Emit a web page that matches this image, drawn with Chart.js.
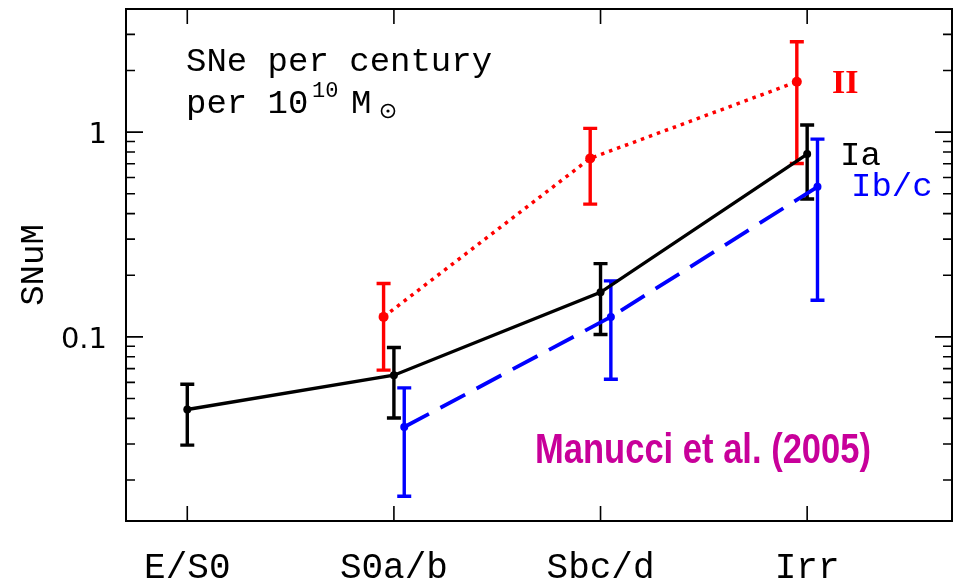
<!DOCTYPE html>
<html>
<head>
<meta charset="utf-8">
<script src="https://cdn.jsdelivr.net/npm/chart.js@4"></script>
<style>
  html, body { margin: 0; padding: 0; background: #ffffff; }
  #wrap { width: 957px; height: 583px; }
</style>
</head>
<body>
<div id="wrap"><canvas id="c" width="957" height="583"></canvas></div>
<script>
// ---- Data ----
const categories = ['E/S0', 'S0a/b', 'Sbc/d', 'Irr'];

const iaValues  = [0.0442, 0.065, 0.165, 0.781];
const iaErrHigh = [0.0587, 0.0887, 0.228, 1.082];
const iaErrLow  = [0.0296, 0.0402, 0.1027, 0.471];

const iiValues  = [null, 0.1252, 0.744, 1.761];
const iiErrHigh = [null, 0.1823, 1.042, 2.761];
const iiErrLow  = [null, 0.0688, 0.4447, 0.703];

const ibcValues  = [null, 0.0363, 0.1252, 0.5407];
const ibcErrHigh = [null, 0.0564, 0.1877, 0.924];
const ibcErrLow  = [null, 0.01666, 0.0621, 0.151];

const seriesOffsets = { Ia: 0, II: -0.05, Ibc: 0.05 };

const yMajorTicks = [0.1, 1];
const yMajorLabels = ['0.1', '1'];
const yMinorTicks = [0.02, 0.03, 0.04, 0.05, 0.06, 0.07, 0.08, 0.09,
                     0.2, 0.3, 0.4, 0.5, 0.6, 0.7, 0.8, 0.9, 2, 3];

const xMin = -0.2966, xMax = 3.701;
const yMin = 0.01262, yMax = 3.99;

// ---- build datasets ----
function pts(vals, off) {
  const out = [];
  vals.forEach((v, i) => { if (v !== null) out.push({ x: i + off, y: v }); });
  return out;
}

const series = [
  { label: 'II', values: iiValues, hi: iiErrHigh, lo: iiErrLow, off: seriesOffsets.II,
    color: '#ff0000', dash: [3.5, 5], width: 3.5, radius: 5 },
  { label: 'Ia', values: iaValues, hi: iaErrHigh, lo: iaErrLow, off: seriesOffsets.Ia,
    color: '#000000', dash: [], width: 3.4, radius: 4 },
  { label: 'Ib/c', values: ibcValues, hi: ibcErrHigh, lo: ibcErrLow, off: seriesOffsets.Ibc,
    color: '#0000ff', dash: [28, 13], width: 3.8, radius: 4 }
];

const errorBarPlugin = {
  id: 'errbars',
  beforeDatasetsDraw(chart) {
    const ctx = chart.ctx, xs = chart.scales.x, ys = chart.scales.y;
    ctx.save();
    series.forEach(s => {
      ctx.strokeStyle = s.color;
      ctx.lineWidth = 3.4;
      ctx.setLineDash([]);
      ctx.lineCap = 'butt';
      s.values.forEach((v, i) => {
        if (v === null) return;
        const px = xs.getPixelForValue(i + s.off);
        const yh = ys.getPixelForValue(s.hi[i]);
        const yl = ys.getPixelForValue(s.lo[i]);
        ctx.beginPath();
        ctx.moveTo(px, yh); ctx.lineTo(px, yl);
        ctx.moveTo(px - 7, yh); ctx.lineTo(px + 7, yh);
        ctx.moveTo(px - 7, yl); ctx.lineTo(px + 7, yl);
        ctx.stroke();
      });
    });
    ctx.restore();
  }
};

const framePlugin = {
  id: 'frame',
  afterDraw(chart) {
    const ctx = chart.ctx, xs = chart.scales.x, ys = chart.scales.y;
    const a = chart.chartArea;
    ctx.save();
    ctx.setLineDash([]);
    // frame
    ctx.strokeStyle = '#000';
    ctx.lineWidth = 2;
    ctx.strokeRect(a.left, a.top, a.right - a.left, a.bottom - a.top);
    // y ticks (left and right)
    ctx.lineWidth = 1.6;
    ctx.beginPath();
    yMajorTicks.forEach(v => {
      const py = ys.getPixelForValue(v);
      ctx.moveTo(a.left, py); ctx.lineTo(a.left + 17, py);
      ctx.moveTo(a.right, py); ctx.lineTo(a.right - 17, py);
    });
    yMinorTicks.forEach(v => {
      const py = ys.getPixelForValue(v);
      ctx.moveTo(a.left, py); ctx.lineTo(a.left + 9, py);
      ctx.moveTo(a.right, py); ctx.lineTo(a.right - 9, py);
    });
    // x ticks (bottom and top)
    categories.forEach((c, i) => {
      const px = xs.getPixelForValue(i);
      ctx.moveTo(px, a.bottom); ctx.lineTo(px, a.bottom - 15);
      ctx.moveTo(px, a.top); ctx.lineTo(px, a.top + 15);
    });
    ctx.stroke();

    // y tick labels
    ctx.fillStyle = '#000';
    ctx.font = '29px "DejaVu Sans"';
    ctx.textAlign = 'right';
    ctx.textBaseline = 'alphabetic';
    yMajorTicks.forEach((v, i) => {
      const py = ys.getPixelForValue(v);
      ctx.fillText(yMajorLabels[i], 107, py + 11);
    });

    // x category labels
    ctx.font = '36px "Liberation Mono"';
    ctx.textAlign = 'center';
    categories.forEach((c, i) => {
      const px = xs.getPixelForValue(i);
      ctx.fillText(c, px, 578);
    });

    // y axis title
    ctx.save();
    ctx.translate(43, 265);
    ctx.rotate(-Math.PI / 2);
    ctx.font = '34px "Liberation Mono"';
    ctx.textAlign = 'center';
    ctx.fillText('SNuM', 0, 0);
    ctx.restore();

    // annotation
    ctx.textAlign = 'left';
    ctx.font = '34px "Liberation Mono"';
    ctx.fillText('SNe per century', 186, 71);
    ctx.fillText('per 10', 186, 113);
    ctx.font = '22px "Liberation Mono"';
    ctx.fillText('10', 312, 97);
    ctx.font = '34px "Liberation Mono"';
    ctx.fillText('M', 351, 113);
    // sun symbol
    ctx.lineWidth = 1.6;
    ctx.beginPath();
    ctx.arc(388, 111, 6.5, 0, Math.PI * 2);
    ctx.stroke();
    ctx.beginPath();
    ctx.arc(388, 111, 1.6, 0, Math.PI * 2);
    ctx.fill();

    // series labels
    ctx.fillStyle = '#ff0000';
    ctx.font = 'bold 34px "Liberation Serif"';
    ctx.fillText('II', 832, 93);
    ctx.font = '34px "Liberation Mono"';
    ctx.fillStyle = '#000000';
    ctx.fillText('Ia', 840, 165);
    ctx.fillStyle = '#0000ff';
    ctx.fillText('Ib/c', 851, 196);

    // citation
    ctx.fillStyle = '#c8009a';
    ctx.font = 'bold 42px "Liberation Sans Narrow", "Liberation Sans"';
    const txt = 'Manucci et al. (2005)';
    const w = ctx.measureText(txt).width;
    const target = 336;
    ctx.save();
    ctx.translate(535, 463);
    ctx.scale(target / w, 1);
    ctx.fillText(txt, 0, 0);
    ctx.restore();

    ctx.restore();
  }
};

const datasets = series.map(s => ({
  label: s.label,
  data: pts(s.values, s.off),
  borderColor: s.color,
  backgroundColor: s.color,
  borderWidth: s.width,
  borderDash: s.dash,
  pointRadius: s.radius,
  pointBorderWidth: 0,
  pointBackgroundColor: s.color,
  tension: 0,
  fill: false
}));

new Chart(document.getElementById('c'), {
  type: 'line',
  data: { datasets },
  options: {
    responsive: false,
    animation: false,
    devicePixelRatio: 1,
    layout: { padding: { left: 126, right: 5, top: 9, bottom: 62 } },
    plugins: { legend: { display: false }, tooltip: { enabled: false } },
    scales: {
      x: { type: 'linear', min: xMin, max: xMax, display: false },
      y: { type: 'logarithmic', min: yMin, max: yMax, display: false }
    }
  },
  plugins: [errorBarPlugin, framePlugin]
});
</script>
</body>
</html>
